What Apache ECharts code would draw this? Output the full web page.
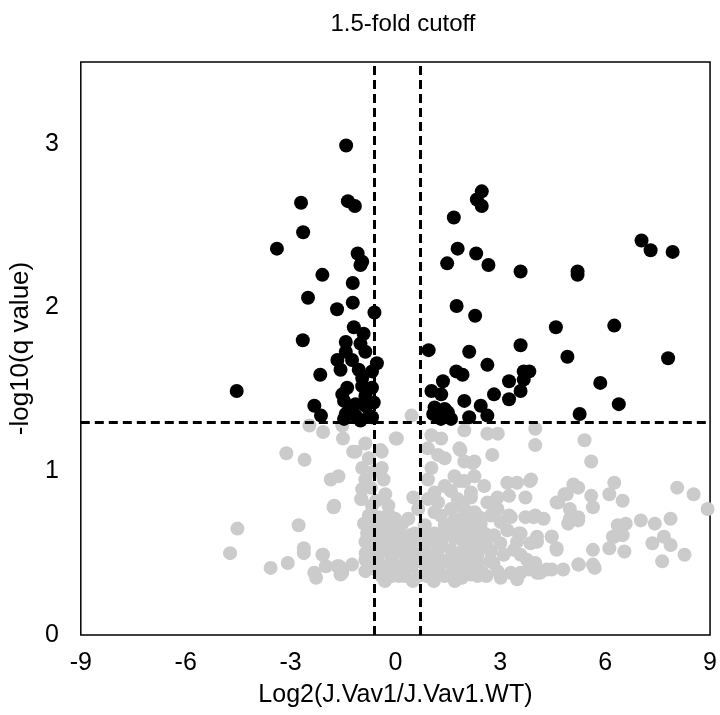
<!DOCTYPE html>
<html style="height: 100%">
<head>
<meta charset="utf-8">
</head>
<body style="height: 100%; margin: 0; background: #fff">
<div id="container" style="width: 720px; height: 715px"></div>
<script type="text/javascript" src="https://cdn.jsdelivr.net/npm/echarts@6/dist/echarts.min.js"></script>
<script type="text/javascript">
// significant proteins (q < 0.05 and beyond fold cutoff): [log2 ratio, -log10 q]
var sigPoints = [
  [-1.41,2.99],[-2.70,2.64],[-1.36,2.65],[-1.16,2.62],[-2.64,2.46],[-3.39,2.36],[-1.08,2.33],
  [-0.95,2.28],[-1.00,2.26],[-2.09,2.20],[-1.22,2.15],[-2.50,2.06],[-1.22,2.03],[-1.67,1.99],
  [-0.60,1.97],[-1.19,1.88],[-0.91,1.84],[-2.65,1.80],[-1.42,1.79],[-1.00,1.78],[-1.42,1.73],
  [-0.86,1.73],[-1.66,1.68],[-1.24,1.68],[-0.53,1.66],[-1.57,1.62],[-1.05,1.62],[-0.67,1.61],
  [-2.15,1.59],[-0.95,1.57],[-4.54,1.49],[-1.38,1.51],[-0.95,1.52],[-0.67,1.51],[-1.52,1.47],
  [-0.86,1.46],[-1.47,1.43],[-1.14,1.41],[-0.86,1.40],[-0.62,1.42],[-2.32,1.40],[-2.13,1.34],
  [-1.33,1.37],[-1.14,1.34],[-0.76,1.34],[-1.47,1.32],[-1.42,1.35],[-0.67,1.33],[-1.00,1.31],
  [2.47,2.71],[2.33,2.66],[2.47,2.62],[1.67,2.55],[7.04,2.41],[7.30,2.35],[7.93,2.34],
  [1.78,2.36],[2.31,2.33],[1.48,2.27],[2.66,2.26],[3.58,2.22],[5.21,2.22],[5.21,2.20],
  [1.75,2.01],[2.28,1.95],[4.59,1.88],[6.26,1.89],[0.95,1.74],[2.11,1.73],[3.58,1.77],
  [4.92,1.70],[7.80,1.69],[1.74,1.61],[1.92,1.59],[2.63,1.65],[3.67,1.61],[3.83,1.61],
  [3.67,1.56],[1.36,1.55],[3.25,1.55],[5.86,1.54],[1.03,1.49],[1.31,1.47],[2.82,1.47],
  [3.58,1.49],[3.25,1.44],[1.97,1.43],[1.12,1.39],[1.41,1.38],[2.44,1.40],[6.39,1.41],
  [1.22,1.33],[1.59,1.32],[2.11,1.33],[2.63,1.34],[5.27,1.35],[1.50,1.36],[1.08,1.35],[1.30,1.32]
];

// non-significant proteins
var otherPoints = [
  [-2.46,1.28],[-2.07,1.24],[-1.52,1.28],[-1.50,1.20],[0.01,1.20],[0.46,1.34],[-3.12,1.11],
  [-2.60,1.07],[-1.21,1.12],[-0.86,1.17],[-0.43,1.13],[-1.85,0.95],[-1.63,0.97],[-0.98,0.83],
  [-1.77,0.78],[-4.52,0.65],[-4.73,0.50],[-2.77,0.67],[-2.62,0.53],[-2.62,0.50],[-2.07,0.49],
  [-3.57,0.41],[-3.08,0.44],[-2.32,0.38],[-1.66,0.42],[-1.24,0.43],[-1.57,0.37],[-2.27,0.35],
  [-1.14,1.12],[-0.76,1.08],[-0.39,1.12],[-0.95,1.02],[-0.39,1.02],[-0.34,0.95],[-0.86,0.95],
  [-0.95,0.89],[-0.29,0.86],[-0.97,0.83],[-1.75,0.79],[-0.67,0.79],[-0.20,0.79],[-0.76,0.73],
  [-0.01,0.71],[-0.67,0.67],[-0.29,0.69],[-0.81,0.62],[-0.39,0.62],[0.08,0.64],[0.42,0.61],
  [-0.86,0.57],[-0.48,0.57],[-0.10,0.57],[0.27,0.55],[0.65,0.57],[-2.09,0.49],[-1.99,0.42],
  [-1.61,0.42],[-0.86,0.46],[-0.48,0.49],[-0.10,0.47],[0.27,0.49],[0.65,0.47],[-0.86,0.39],
  [-0.48,0.38],[-0.10,0.36],[0.27,0.36],[0.65,0.36],[-1.52,0.38],[0.04,1.20],[0.51,0.84],
  [0.65,0.77],[0.37,0.71],
  [1.03,1.22],[1.31,1.20],[1.83,1.14],[0.93,1.14],[1.22,1.10],[1.41,1.08],[1.97,1.06],
  [2.21,1.05],[1.03,1.02],[0.93,0.95],[1.69,0.97],[1.97,0.94],[2.26,0.97],[1.41,0.91],
  [1.12,0.87],[1.59,0.88],[0.93,0.83],[1.22,0.81],[1.78,0.83],[2.16,0.84],[1.12,0.75],
  [1.59,0.77],[1.97,0.77],[2.26,0.75],[0.84,0.67],[1.41,0.67],[1.88,0.68],[2.26,0.66],
  [0.93,0.57],[1.31,0.57],[1.69,0.59],[2.16,0.57],[0.93,0.49],[1.31,0.46],[1.69,0.49],
  [2.16,0.46],[1.03,0.38],[1.41,0.36],[1.78,0.38],[2.16,0.37],
  [1.97,1.25],[2.63,1.23],[2.93,1.23],[4.00,1.26],[4.00,1.16],[5.41,1.19],[5.60,1.06],
  [1.86,1.13],[2.77,1.10],[2.26,1.06],[1.83,0.94],[2.54,0.91],[3.20,0.93],[3.48,0.93],
  [3.88,0.95],[2.16,0.87],[2.92,0.84],[3.25,0.85],[3.72,0.84],[1.88,0.79],[2.63,0.81],
  [2.92,0.77],[3.30,0.72],[3.72,0.72],[4.00,0.73],[4.24,0.71],[4.61,0.81],[4.84,0.86],
  [5.09,0.92],[4.99,0.77],[5.23,0.72],[4.94,0.68],[5.60,0.85],[5.65,0.78],[6.12,0.86],
  [2.07,0.69],[2.44,0.68],[2.73,0.73],[3.01,0.69],[1.97,0.61],[2.35,0.59],[2.82,0.61],
  [3.20,0.64],[3.58,0.62],[4.05,0.60],[4.47,0.60],[3.48,0.57],[3.86,0.56],[4.61,0.53],
  [1.97,0.51],[2.35,0.49],[2.73,0.51],[3.10,0.49],[3.58,0.49],[4.00,0.44],[4.33,0.40],
  [4.80,0.40],[5.23,0.43],[5.65,0.52],[5.65,0.43],[6.12,0.53],[6.22,0.60],[2.07,0.40],
  [2.49,0.38],[2.92,0.39],[3.30,0.38],[3.48,0.34],[3.81,0.40],[4.05,0.38],[3.01,0.35],
  [2.35,0.36],
  [5.23,0.90],[4.90,0.86],[4.66,0.81],[6.26,0.93],[6.50,0.82],[8.06,0.90],[8.53,0.86],
  [8.93,0.77],[4.99,0.71],[5.23,0.70],[6.36,0.67],[6.59,0.68],[7.02,0.70],[7.42,0.68],
  [7.87,0.71],[6.26,0.60],[6.50,0.61],[6.55,0.51],[7.35,0.56],[7.68,0.60],[7.87,0.55],
  [7.63,0.45],[8.27,0.49],[5.70,0.41],[5.25,0.43],[4.47,0.40],[4.61,0.52],[4.47,0.60],
  [4.05,0.57],[3.95,0.72],[3.53,0.62],[3.85,0.94],[3.25,0.73],[3.39,0.52],[3.76,0.46],
  [4.14,0.38],[3.58,0.38],
  [-0.67,0.52],[-0.29,0.52],[0.08,0.52],[0.46,0.52],[0.84,0.52],[1.22,0.52],[1.59,0.52],
  [1.97,0.54],[-0.67,0.41],[-0.29,0.42],[0.08,0.41],[0.46,0.42],[0.84,0.43],[1.22,0.41],
  [1.59,0.43],[1.97,0.42],[2.35,0.44],[-0.50,0.66],[-0.10,0.66],[0.20,0.68],[0.75,0.62],
  [1.12,0.62],[1.50,0.63],[1.78,0.65],[2.10,0.64],[-0.48,0.72],[-0.20,0.74],[1.30,0.73],
  [1.70,0.71],[2.00,0.72],[0.50,0.33],[1.10,0.33],[-0.30,0.33],[1.70,0.33],[2.60,0.36],
  [2.80,0.44],[3.00,0.56],[2.60,0.55],[2.55,0.62],
  [-0.50,0.45],[-0.10,0.45],[0.30,0.45],[0.70,0.45],[1.00,0.45],[1.40,0.45],[1.80,0.45],
  [-0.60,0.60],[-0.20,0.60],[0.20,0.60],[0.55,0.62],[1.00,0.60],[1.40,0.60],[1.85,0.60],
  [-0.40,0.36],[0.10,0.36],[0.90,0.36],[1.60,0.36],[1.90,0.35],[2.30,0.52],[2.70,0.45],
  [2.40,0.72],[1.60,0.68],[-0.85,0.50],[-0.90,0.68],[-0.55,0.82],[-0.70,0.90],[-0.60,1.00]
];

var foldCutLeft = -0.6;
var foldCutRight = 0.72;
var qCut = 1.3;

var chartTitle = '1.5-fold cutoff';
var xName = 'Log2(J.Vav1/J.Vav1.WT)';
var yName = '-log10(q value)';

var font = 'Liberation Sans, Arial, Helvetica, sans-serif';

var myChart = echarts.init(document.getElementById('container'));
var option = {
  backgroundColor: '#fff',
  animation: false,
  title: {
    text: chartTitle,
    left: 398,
    top: 7,
    textAlign: 'center',
    textStyle: { fontFamily: font, fontSize: 24, fontWeight: 'normal', color: '#000' }
  },
  grid: {
    left: 79, right: 5, top: 62, bottom: 80,
    show: true, borderColor: '#000', borderWidth: 1.5, backgroundColor: 'transparent'
  },
  xAxis: {
    type: 'value', min: -9, max: 9, interval: 3,
    axisLine: { show: false }, axisTick: { show: false }, splitLine: { show: false },
    axisLabel: { color: '#000', fontSize: 25, fontFamily: font, margin: 16 },
    name: xName, nameLocation: 'middle', nameGap: 48,
    nameTextStyle: { color: '#000', fontSize: 25, fontFamily: font }
  },
  yAxis: {
    type: 'value', min: 0, max: 3.5, interval: 1,
    axisLine: { show: false }, axisTick: { show: false }, splitLine: { show: false },
    axisLabel: {
      color: '#000', fontSize: 25, fontFamily: font, margin: 22,
      formatter: function (v) { return v % 1 === 0 ? String(v) : ''; }
    },
    name: yName, nameLocation: 'middle', nameGap: 46, nameRotate: 90,
    nameTextStyle: { color: '#000', fontSize: 26, fontFamily: font }
  },
  series: [
    {
      type: 'scatter', data: otherPoints, symbolSize: 14, z: 2,
      itemStyle: { color: '#cbcbcb', opacity: 1 }
    },
    {
      type: 'scatter', data: sigPoints, symbolSize: 14, z: 3,
      itemStyle: { color: '#000', opacity: 1 }
    },
    {
      type: 'scatter', data: [], z: 4,
      markLine: {
        silent: true, symbol: 'none', animation: false,
        label: { show: false },
        lineStyle: { color: '#000', width: 3, type: [9, 5] },
        data: [{ xAxis: foldCutLeft }, { xAxis: foldCutRight }, { yAxis: qCut }]
      }
    }
  ]
};
myChart.setOption(option);
window.onresize = myChart.resize;
</script>
</body>
</html>
